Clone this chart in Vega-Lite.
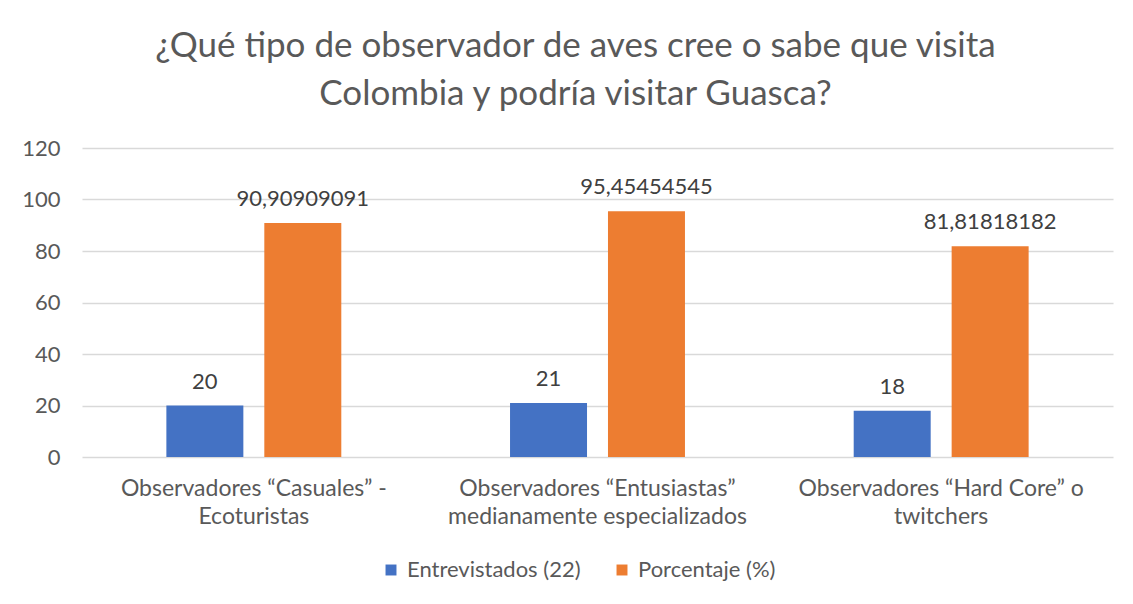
{
  "$schema": "https://vega.github.io/schema/vega-lite/v6.json",
  "width": 1031,
  "height": 309,
  "autosize": "none",
  "padding": {"left": 82, "top": 148, "right": 20, "bottom": 147},
  "background": "white",
  "title": {
    "text": ["¿Qué tipo de observador de aves cree o sabe que visita", "Colombia y podría visitar Guasca?"],
    "anchor": "middle",
    "dx": -22,
    "offset": 25,
    "font": "Lato",
    "fontSize": 35,
    "fontWeight": "normal",
    "color": "#595959",
    "lineHeight": 48
  },
  "data": {
    "values": [
      {"cat": "Observadores “Casuales” -|Ecoturistas", "order": 1, "serie": "Entrevistados (22)", "valor": 20, "etiqueta": "20"},
      {"cat": "Observadores “Casuales” -|Ecoturistas", "order": 1, "serie": "Porcentaje (%)", "valor": 90.90909091, "etiqueta": "90,90909091"},
      {"cat": "Observadores “Entusiastas”|medianamente especializados", "order": 2, "serie": "Entrevistados (22)", "valor": 21, "etiqueta": "21"},
      {"cat": "Observadores “Entusiastas”|medianamente especializados", "order": 2, "serie": "Porcentaje (%)", "valor": 95.45454545, "etiqueta": "95,45454545"},
      {"cat": "Observadores “Hard Core” o|twitchers", "order": 3, "serie": "Entrevistados (22)", "valor": 18, "etiqueta": "18"},
      {"cat": "Observadores “Hard Core” o|twitchers", "order": 3, "serie": "Porcentaje (%)", "valor": 81.81818182, "etiqueta": "81,81818182"}
    ]
  },
  "encoding": {
    "x": {
      "field": "cat",
      "type": "nominal",
      "sort": {"field": "order"},
      "title": null,
      "scale": {"paddingInner": 0.43, "paddingOuter": 0.215},
      "axis": {
        "labelAngle": 0,
        "labelExpr": "split(datum.label, '|')",
        "labelFont": "Lato",
        "labelFontSize": 23,
        "labelColor": "#595959",
        "labelLineHeight": 28,
        "labelPadding": 20,
        "labelLimit": 400,
        "ticks": false,
        "domain": false,
        "grid": false
      }
    },
    "xOffset": {
      "field": "serie",
      "type": "nominal",
      "scale": {"paddingInner": 0.214, "paddingOuter": 0.107}
    },
    "y": {
      "field": "valor",
      "type": "quantitative",
      "title": null,
      "scale": {"domain": [0, 120]},
      "axis": {
        "values": [0, 20, 40, 60, 80, 100, 120],
        "labelFont": "Lato",
        "labelFontSize": 22,
        "labelColor": "#595959",
        "labelPadding": 22,
        "ticks": false,
        "domain": false,
        "gridColor": "#d9d9d9",
        "gridWidth": 1.5
      }
    }
  },
  "layer": [
    {
      "mark": {"type": "bar"},
      "encoding": {
        "color": {
          "field": "serie",
          "type": "nominal",
          "scale": {"domain": ["Entrevistados (22)", "Porcentaje (%)"], "range": ["#4472C4", "#ED7D31"]},
          "legend": {
            "orient": "none",
            "legendX": 298,
            "legendY": 411,
            "direction": "horizontal",
            "title": null,
            "symbolType": "square",
            "symbolSize": 120,
            "symbolStrokeWidth": 0,
            "labelFont": "Lato",
            "labelFontSize": 22,
            "labelColor": "#595959",
            "labelOffset": 5,
            "labelLimit": 400,
            "columnPadding": 30
          }
        }
      }
    },
    {
      "mark": {"type": "text", "baseline": "bottom", "dy": -12, "font": "Lato", "fontSize": 22, "color": "#404040"},
      "encoding": {
        "text": {"field": "etiqueta", "type": "nominal"}
      }
    }
  ],
  "config": {
    "view": {"stroke": null}
  }
}
